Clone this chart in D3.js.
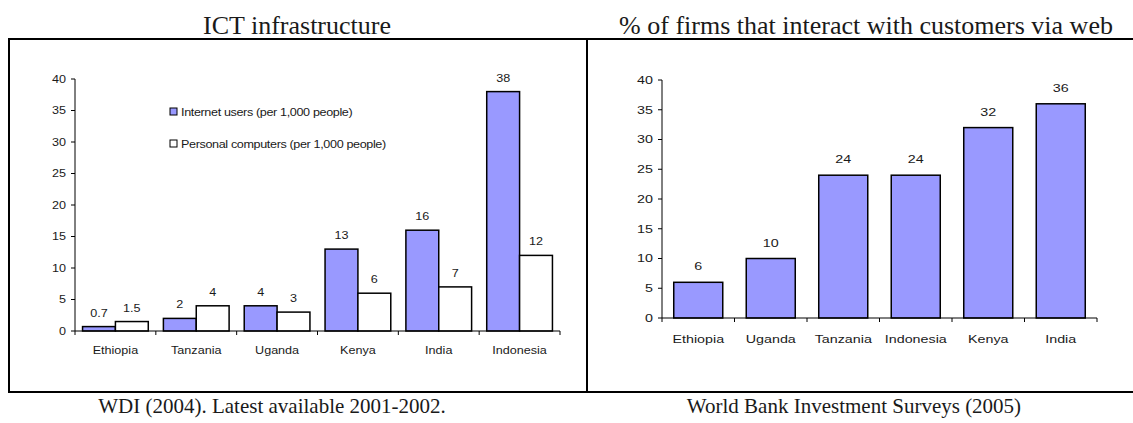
<!DOCTYPE html>
<html>
<head>
<meta charset="utf-8">
<script src="https://cdn.jsdelivr.net/npm/d3@7/dist/d3.min.js"></script>
<style>
  html, body { margin: 0; padding: 0; background: #fff; }
  svg { display: block; }
  .serif { font-family: "Liberation Serif", "Times New Roman", serif; fill: #1a1a1a; }
  .sans { font-family: "Liberation Sans", Arial, sans-serif; fill: #1a1a1a; }
</style>
</head>
<body>
<svg id="chart" width="1133" height="423"></svg>
<script>
// ICT infrastructure (per 1,000 people)
const ictCountries = ["Ethiopia", "Tanzania", "Uganda", "Kenya", "India", "Indonesia"];
const ictSeries = ["Internet users (per 1,000 people)", "Personal computers (per 1,000 people)"];
const internetUsers = [0.7, 2, 4, 13, 16, 38];
const personalComputers = [1.5, 4, 3, 6, 7, 12];

// % of firms interacting with customers via web
const webCountries = ["Ethiopia", "Uganda", "Tanzania", "Indonesia", "Kenya", "India"];
const webShare = [6, 10, 24, 24, 32, 36];

const yTicks = [0, 5, 10, 15, 20, 25, 30, 35, 40];

const titles = ["ICT infrastructure", "% of firms that interact with customers via web"];
const sources = ["WDI (2004). Latest available 2001-2002.", "World Bank Investment Surveys (2005)"];

const BAR_FILL = "#9999ff";
const svg = d3.select("#chart");

// Frame around both panels
const frame = svg.append("g").attr("stroke", "#000").attr("stroke-width", 2).attr("fill", "none");
frame.append("path").attr("d", "M1133,39 H9 V392 H1133");
frame.append("line").attr("x1", 587).attr("x2", 587).attr("y1", 39).attr("y2", 392);

// Panel titles and sources
const caption = (x, y, size, t) => svg.append("text").attr("class", "serif")
  .attr("x", x).attr("y", y).attr("text-anchor", "middle").attr("font-size", size).text(t);
caption(297, 34, 26, titles[0]);
caption(866, 34, 26, titles[1]);
caption(272, 413, 21, sources[0]);
caption(854, 413, 21, sources[1]);

// Text drawn with a horizontal stretch (wide, short glyphs)
function stretchedText(sel, sx) {
  return sel.attr("transform", d => `translate(${d.tx},${d.ty}) scale(${sx},1)`);
}

function drawAxes(g, x, y, tickLen, fontSize, sx, labelDy) {
  const [x0, x1] = x.range();
  const [yb, yt] = y.range();
  // y axis
  g.append("line").attr("x1", x0).attr("x2", x0).attr("y1", yb).attr("y2", yt)
    .attr("stroke", "#000").attr("stroke-width", 1);
  g.selectAll(".ytick").data(yTicks).join("line")
    .attr("x1", x0 - tickLen).attr("x2", x0)
    .attr("y1", d => y(d)).attr("y2", d => y(d))
    .attr("stroke", "#000").attr("stroke-width", 1);
  stretchedText(g.selectAll(".ylab").data(yTicks.map(v => ({ v, tx: x0 - tickLen - 5, ty: y(v) })))
    .join("text").attr("class", "sans").attr("font-size", fontSize)
    .attr("dy", "0.35em").attr("text-anchor", "end").text(d => d.v), sx);
  // x axis
  g.append("line").attr("x1", x0).attr("x2", x1).attr("y1", yb).attr("y2", yb)
    .attr("stroke", "#000").attr("stroke-width", 1);
  const bounds = x.domain().map(d => x(d)).concat([x1]);
  g.selectAll(".xtick").data(bounds).join("line")
    .attr("x1", d => d).attr("x2", d => d).attr("y1", yb).attr("y2", yb + tickLen)
    .attr("stroke", "#000").attr("stroke-width", 1);
  stretchedText(g.selectAll(".xlab")
    .data(x.domain().map(c => ({ c, tx: x(c) + x.bandwidth() / 2, ty: yb + labelDy })))
    .join("text").attr("class", "sans").attr("font-size", fontSize)
    .attr("text-anchor", "middle").text(d => d.c), sx);
}

const fmt = d3.format("~g");

// ---- Left panel: grouped bars ----
{
  const SX = 1.2, FS = 10.5;
  const g = svg.append("g");
  const x = d3.scaleBand().domain(ictCountries).range([75, 560]);
  const xs = d3.scaleBand().domain(ictSeries).range([0, x.bandwidth()]).paddingOuter(0.23);
  const y = d3.scaleLinear().domain([0, 40]).range([331, 79]);
  const rows = ictCountries.map((c, i) => ({ c, vals: [internetUsers[i], personalComputers[i]] }));
  const fills = [BAR_FILL, "#ffffff"];

  const groups = g.selectAll(".grp").data(rows).join("g")
    .attr("transform", d => `translate(${x(d.c)},0)`);
  groups.selectAll("rect").data(d => d.vals.map((v, k) => ({ v, k }))).join("rect")
    .attr("x", d => xs(ictSeries[d.k])).attr("width", xs.bandwidth())
    .attr("y", d => y(d.v)).attr("height", d => y(0) - y(d.v))
    .attr("fill", d => fills[d.k]).attr("stroke", "#000").attr("stroke-width", 1.5);
  stretchedText(groups.selectAll("text")
    .data(d => d.vals.map((v, k) => ({ v, tx: xs(ictSeries[k]) + xs.bandwidth() / 2, ty: y(v) - 10 })))
    .join("text").attr("class", "sans").attr("font-size", FS)
    .attr("text-anchor", "middle").text(d => fmt(d.v)), SX);

  drawAxes(g, x, y, 4, FS, SX, 23);

  // Legend
  const leg = g.selectAll(".leg").data(ictSeries).join("g")
    .attr("transform", (d, i) => `translate(170,${108 + i * 32})`);
  leg.append("rect").attr("width", 7).attr("height", 7)
    .attr("fill", (d, i) => fills[i]).attr("stroke", "#000").attr("stroke-width", 1);
  leg.append("text").attr("class", "sans").attr("font-size", FS)
    .attr("transform", `translate(11,4) scale(${SX},1)`)
    .attr("letter-spacing", -0.3).attr("dy", "0.35em").text(d => d);
}

// ---- Right panel: single series ----
{
  const SX = 1.3, FS = 11;
  const g = svg.append("g");
  const x = d3.scaleBand().domain(webCountries).range([662, 1097]);
  const y = d3.scaleLinear().domain([0, 40]).range([318, 80]);
  const barW = x.bandwidth() * 0.676;
  const rows = webCountries.map((c, i) => ({ c, v: webShare[i] }));

  g.selectAll("rect").data(rows).join("rect")
    .attr("x", d => x(d.c) + (x.bandwidth() - barW) / 2).attr("width", barW)
    .attr("y", d => y(d.v)).attr("height", d => y(0) - y(d.v))
    .attr("fill", BAR_FILL).attr("stroke", "#000").attr("stroke-width", 1.5);
  stretchedText(g.selectAll(".val")
    .data(rows.map(r => ({ v: r.v, tx: x(r.c) + x.bandwidth() / 2, ty: y(r.v) - 12 })))
    .join("text").attr("class", "sans").attr("font-size", FS)
    .attr("text-anchor", "middle").text(d => fmt(d.v)), SX);

  drawAxes(g, x, y, 4, FS, SX, 25);
}
</script>
</body>
</html>
